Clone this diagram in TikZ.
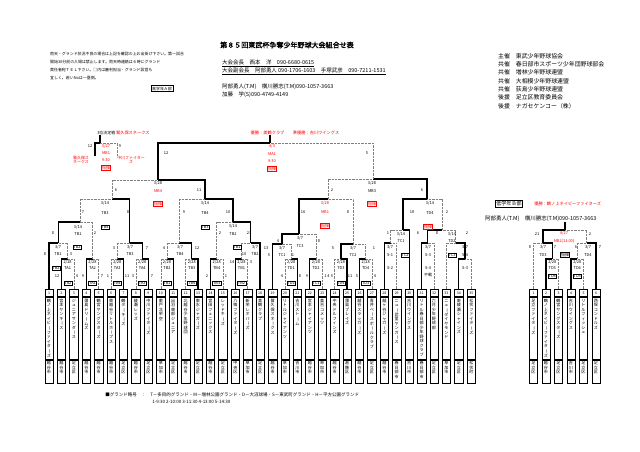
\documentclass[tikz,border=0pt]{standalone}
\usepackage{fontspec}
\setmainfont{Noto Sans CJK JP}[AutoFakeBold=2]

\makeatletter
\def\tatebar{ー}
\newcommand\tate[2][3.1cm]{\vbox to #1{\offinterlineskip\vskip2pt\@tfor\tatech:=#2\do{\hbox to 1em{\hss\vrule height .92em depth .18em width 0pt\ifx\tatech\tatebar\rotatebox[origin=c]{-90}{ー}\else\tatech\fi\hss}}\vss}}
\makeatother

\begin{document}
\begin{tikzpicture}[x=0.05cm,y=-0.05cm,
  win/.style={line width=1.8pt},
  lose/.style={line width=0.6pt,gray,dash pattern=on 1pt off 1pt},
  namebox/.style={draw,line width=0.8pt,anchor=north,minimum width=0.42cm,inner sep=0pt,font=\fontsize{5.8}{5.8}\selectfont},
  citybox/.style={namebox},
  numbox/.style={draw,line width=0.8pt,anchor=south,minimum width=0.42cm,minimum height=0.37cm,inner sep=0pt,font=\fontsize{5}{5}\selectfont},
  ttl/.style={font=\fontsize{10}{12}\selectfont\bfseries,inner sep=0pt},
  hdr/.style={font=\fontsize{7.8}{9}\selectfont,anchor=west,inner sep=0pt},
  org/.style={font=\fontsize{8.4}{10}\selectfont,anchor=west,inner sep=0pt},
  note/.style={font=\fontsize{5.6}{11.5}\selectfont,anchor=north west,align=left,inner sep=0pt},
  lbl/.style={font=\fontsize{5.6}{6}\selectfont,inner sep=0.2pt},
  rlbl/.style={lbl,text=red},
  blbl/.style={lbl,draw,inner sep=0.9pt,line width=0.4pt},
  rblbl/.style={blbl,text=red,draw=red},
  grp/.style={font=\fontsize{5.6}{6}\selectfont,draw,line width=0.6pt,inner sep=1.5pt}]
\useasboundingbox (0,0) rectangle (640,452);

\node[ttl] (title) at (287,45) {第８５回東武杯争奪少年野球大会組合せ表};
\node[note] (notes) at (50,52) {雨天・グランド状況不良の場合は上記を確認の上お出掛け下さい。第一試合\\開始30分前の入場は禁止します。雨天時連絡は６時にグランド\\責任者宛ＴＥＬ下さい。□内は審判担当・グランド設営も\\宜しく。若いNoは一塁側。};
\node[grp] (koA) at (162,88.5) {高学年Ａ部};
\node[hdr] (kaicho) at (222,63) {\underline{大会会長　西本　洋　090-6680-0615}};
\node[hdr] (fuku) at (222,71) {\underline{大会副会長　阿部勇人 090-1706-1603　手塚武彦　090-7211-1531}};
\node[hdr] (shin1) at (222,87) {阿部勇人(T.M)　横川勝志(T.M)090-1057-3663};
\node[hdr] (shin2) at (222,95) {加藤　学(S)090-4749-4149};
\node[org] (o1) at (498,56) {主催　東武少年野球協会};
\node[org] (o2) at (498,64.3) {共催　春日部市スポーツ少年団野球部会};
\node[org] (o3) at (498,72.6) {共催　増林少年野球連盟};
\node[org] (o4) at (498,80.9) {共催　大相模少年野球連盟};
\node[org] (o5) at (498,89.2) {共催　荻島少年野球連盟};
\node[org] (o6) at (498,97.5) {後援　足立区教育委員会};
\node[org] (o7) at (498,105.8) {後援　ナガセケンコー（株）};

\node[namebox] (n1) at (49.0,297) {\tate{鶴ノ上ネイビーファイターズ}};
\node[numbox] (k1) at (n1.north) {1};
\node[citybox] (c1) at (n1.south) {\tate[1.15cm]{越谷市}};
\node[namebox] (n2) at (61.4,297) {\tate{宮本ヤンキース}};
\node[numbox] (k2) at (n2.north) {2};
\node[citybox] (c2) at (n2.south) {\tate[1.15cm]{越谷市}};
\node[namebox] (n3) at (73.8,297) {\tate{ジュニアサンダース}};
\node[numbox] (k3) at (n3.north) {3};
\node[citybox] (c3) at (n3.south) {\tate[1.15cm]{足立区}};
\node[namebox] (n4) at (86.3,297) {\tate{蒲島ドリームズ}};
\node[numbox] (k4) at (n4.north) {4};
\node[citybox] (c4) at (n4.south) {\tate[1.15cm]{越谷市}};
\node[namebox] (n5) at (98.7,297) {\tate{鶴宮ヤングスターズ}};
\node[numbox] (k5) at (n5.north) {5};
\node[citybox] (c5) at (n5.south) {\tate[1.15cm]{越谷市}};
\node[namebox] (n6) at (111.1,297) {\tate{東越谷リトルホープス}};
\node[numbox] (k6) at (n6.north) {6};
\node[citybox] (c6) at (n6.south) {\tate[1.15cm]{越谷市}};
\node[namebox] (n7) at (123.5,297) {\tate{鶴ターキーズ}};
\node[numbox] (k7) at (n7.north) {7};
\node[citybox] (c7) at (n7.south) {\tate[1.15cm]{足立区}};
\node[namebox] (n8) at (135.9,297) {\tate{綾瀬レッズ}};
\node[numbox] (k8) at (n8.north) {8};
\node[citybox] (c8) at (n8.south) {\tate[1.15cm]{越谷市}};
\node[namebox] (n9) at (148.4,297) {\tate{中川ファイターズ}};
\node[numbox] (k9) at (n9.north) {9};
\node[citybox] (c9) at (n9.south) {\tate[1.15cm]{足立区}};
\node[namebox] (n10) at (160.8,297) {\tate{東戸北栄空}};
\node[numbox] (k10) at (n10.north) {10};
\node[citybox] (c10) at (n10.south) {\tate[1.15cm]{草加市}};
\node[namebox] (n11) at (173.2,297) {\tate{出羽東部ジュニア}};
\node[numbox] (k11) at (n11.north) {11};
\node[citybox] (c11) at (n11.south) {\tate[1.15cm]{足立区}};
\node[namebox] (n12) at (185.6,297) {\tate{北越谷少年野球団}};
\node[numbox] (k12) at (n12.north) {12};
\node[citybox] (c12) at (n12.south) {\tate[1.15cm]{越谷市}};
\node[namebox] (n13) at (198.0,297) {\tate{東水ジャガーズ}};
\node[numbox] (k13) at (n13.north) {13};
\node[citybox] (c13) at (n13.south) {\tate[1.15cm]{足立区}};
\node[namebox] (n14) at (210.5,297) {\tate{宮田フェニックス}};
\node[numbox] (k14) at (n14.north) {14};
\node[citybox] (c14) at (n14.south) {\tate[1.15cm]{越谷市}};
\node[namebox] (n15) at (222.9,297) {\tate{レッドキーズ}};
\node[numbox] (k15) at (n15.north) {15};
\node[citybox] (c15) at (n15.south) {\tate[1.15cm]{足立区}};
\node[namebox] (n16) at (235.3,297) {\tate{八條ファイターズ}};
\node[numbox] (k16) at (n16.north) {16};
\node[citybox] (c16) at (n16.south) {\tate[1.15cm]{中央区}};
\node[namebox] (n17) at (247.7,297) {\tate{新栄レオパーズ}};
\node[numbox] (k17) at (n17.north) {17};
\node[citybox] (c17) at (n17.south) {\tate[1.15cm]{草加市}};
\node[namebox] (n18) at (260.1,297) {\tate{美鶴クラブ}};
\node[numbox] (k18) at (n18.north) {18};
\node[citybox] (c18) at (n18.south) {\tate[1.15cm]{足立区}};
\node[namebox] (n19) at (272.6,297) {\tate{鷲久保スネークス}};
\node[numbox] (k19) at (n19.north) {19};
\node[citybox] (c19) at (n19.south) {\tate[1.15cm]{越谷市}};
\node[namebox] (n20) at (285.0,297) {\tate{リトルジャイアンツ}};
\node[numbox] (k20) at (n20.north) {20};
\node[citybox] (c20) at (n20.south) {\tate[1.15cm]{草加市}};
\node[namebox] (n21) at (297.4,297) {\tate{吉川ストーム}};
\node[numbox] (k21) at (n21.north) {21};
\node[citybox] (c21) at (n21.south) {\tate[1.15cm]{吉川市}};
\node[namebox] (n22) at (309.8,297) {\tate{宮本ジャイアンツ}};
\node[numbox] (k22) at (n22.north) {22};
\node[citybox] (c22) at (n22.south) {\tate[1.15cm]{越谷市}};
\node[namebox] (n23) at (322.2,297) {\tate{美合コメッツ}};
\node[numbox] (k23) at (n23.north) {23};
\node[citybox] (c23) at (n23.south) {\tate[1.15cm]{草加市}};
\node[namebox] (n24) at (334.6,297) {\tate{中央ドルフィンズ}};
\node[numbox] (k24) at (n24.north) {24};
\node[citybox] (c24) at (n24.south) {\tate[1.15cm]{越谷市}};
\node[namebox] (n25) at (347.1,297) {\tate{蒲島ブレイズ}};
\node[numbox] (k25) at (n25.north) {25};
\node[citybox] (c25) at (n25.south) {\tate[1.15cm]{葛飾区}};
\node[namebox] (n26) at (359.5,297) {\tate{越谷スラッガーズ}};
\node[numbox] (k26) at (n26.north) {26};
\node[citybox] (c26) at (n26.south) {\tate[1.15cm]{越谷市}};
\node[namebox] (n27) at (371.9,297) {\tate{青井ベースボールクラブ}};
\node[numbox] (k27) at (n27.north) {27};
\node[citybox] (c27) at (n27.south) {\tate[1.15cm]{足立区}};
\node[namebox] (n28) at (384.3,297) {\tate{越ヶ谷ジャガーズ}};
\node[numbox] (k28) at (n28.north) {28};
\node[citybox] (c28) at (n28.south) {\tate[1.15cm]{越谷市}};
\node[namebox] (n29) at (396.7,297) {\tate{ニュー武里ヤンガース}};
\node[numbox] (k29) at (n29.north) {29};
\node[citybox] (c29) at (n29.south) {\tate[1.15cm]{春日部市}};
\node[namebox] (n30) at (409.2,297) {\tate{吉川ウイングス}};
\node[numbox] (k30) at (n30.north) {30};
\node[citybox] (c30) at (n30.south) {\tate[1.15cm]{吉川市}};
\node[namebox] (n31) at (421.6,297) {\tate{リトル春日部少年野球クラブ}};
\node[numbox] (k31) at (n31.north) {31};
\node[citybox] (c31) at (n31.south) {\tate[1.15cm]{春日部市}};
\node[namebox] (n32) at (434.0,297) {\tate{六月少年野球部}};
\node[numbox] (k32) at (n32.north) {32};
\node[citybox] (c32) at (n32.south) {\tate[1.15cm]{足立区}};
\node[namebox] (n33) at (446.4,297) {\tate{ニューダイヤモンド}};
\node[numbox] (k33) at (n33.north) {33};
\node[citybox] (c33) at (n33.south) {\tate[1.15cm]{草加市}};
\node[namebox] (n34) at (458.8,297) {\tate{東綾瀬シャインズ}};
\node[numbox] (k34) at (n34.north) {34};
\node[citybox] (c34) at (n34.south) {\tate[1.15cm]{足立区}};
\node[namebox] (n35) at (471.3,297) {\tate{松伏ファイターズ}};
\node[numbox] (k35) at (n35.north) {35};
\node[citybox] (c35) at (n35.south) {\tate[1.15cm]{松伏町}};

\node[namebox] (m1) at (533.5,297) {\tate{足立ファイターズ}};
\node[numbox] (j1) at (m1.north) {1};
\node[citybox] (d1) at (m1.south) {\tate[1.15cm]{足立区}};
\node[namebox] (m2) at (546.0,297) {\tate{鶴ノ上ネイビーファイターズ}};
\node[numbox] (j2) at (m2.north) {2};
\node[citybox] (d2) at (m2.south) {\tate[1.15cm]{越谷市}};
\node[namebox] (m3) at (558.5,297) {\tate{鶴宮ヤングスターズ}};
\node[numbox] (j3) at (m3.north) {3};
\node[citybox] (d3) at (m3.south) {\tate[1.15cm]{足立区}};
\node[namebox] (m4) at (571.0,297) {\tate{吉川ウイングス}};
\node[numbox] (j4) at (m4.north) {4};
\node[citybox] (d4) at (m4.south) {\tate[1.15cm]{吉川市}};
\node[namebox] (m5) at (583.5,297) {\tate{リトルフィッシュ}};
\node[numbox] (j5) at (m5.north) {5};
\node[citybox] (d5) at (m5.south) {\tate[1.15cm]{足立区}};
\node[namebox] (m6) at (596.0,297) {\tate{西保コンドルズ}};
\node[numbox] (j6) at (m6.north) {6};
\node[citybox] (d6) at (m6.south) {\tate[1.15cm]{足立区}};

\coordinate (ta1) at (67.6,259);
\coordinate (ta2) at (92.5,259);
\coordinate (ta3) at (117.3,259);
\coordinate (ta4) at (142.2,259);
\coordinate (tb1) at (58.3,243);
\coordinate (tb3) at (129.7,243);
\coordinate (tc1) at (80,222);
\coordinate (qa) at (112,199);
\coordinate (ta5) at (167,259);
\coordinate (ta6) at (191.8,259);
\coordinate (tb4) at (179.4,243);
\coordinate (ta7) at (216.7,259);
\coordinate (ta8) at (241.5,259);
\coordinate (tb2) at (250.8,243);
\coordinate (tc2) at (233,222);
\coordinate (qb) at (205,199);
\coordinate (sa) at (158,180);
\coordinate (td1) at (291.2,259);
\coordinate (td2) at (316,259);
\coordinate (tc3a) at (281.9,244);
\coordinate (tc3) at (299,234);
\coordinate (td3) at (340.9,259);
\coordinate (td4) at (365.7,259);
\coordinate (tc4) at (353.3,244);
\coordinate (mb1) at (328,199);
\coordinate (s1) at (390.5,243);
\coordinate (tc5) at (403,230);
\coordinate (s3) at (427.8,243);
\coordinate (s4a) at (465,259);
\coordinate (s4) at (455.6,243);
\coordinate (tc6) at (442,230);
\coordinate (qc) at (427,199);
\coordinate (sb) at (373,179);
\coordinate (fin) at (270,143);
\coordinate (fintop) at (270,135);

\draw[win] (k2.north) |- (ta1);
\draw[lose] (k3.north) |- (ta1);
\draw[win] (k4.north) |- (ta2);
\draw[lose] (k5.north) |- (ta2);
\draw[lose] (k6.north) |- (ta3);
\draw[win] (k7.north) |- (ta3);
\draw[lose] (k8.north) |- (ta4);
\draw[win] (k9.north) |- (ta4);
\draw[win] (k1.north) |- (tb1);
\draw[lose] (ta1) |- (tb1);
\draw[lose] (ta3) |- (tb3);
\draw[win] (ta4) |- (tb3);
\draw[win] (tb1) |- (tc1);
\draw[lose] (ta2) |- (tc1);
\draw[lose] (tc1) |- (qa);
\draw[win] (tb3) |- (qa);
\draw[lose] (k10.north) |- (ta5);
\draw[win] (k11.north) |- (ta5);
\draw[lose] (k12.north) |- (ta6);
\draw[win] (k13.north) |- (ta6);
\draw[lose] (ta5) |- (tb4);
\draw[win] (ta6) |- (tb4);
\draw[win] (k14.north) |- (ta7);
\draw[lose] (k15.north) |- (ta7);
\draw[win] (k16.north) |- (ta8);
\draw[lose] (k17.north) |- (ta8);
\draw[lose] (ta8) |- (tb2);
\draw[win] (k18.north) |- (tb2);
\draw[lose] (ta7) |- (tc2);
\draw[win] (tb2) |- (tc2);
\draw[lose] (tb4) |- (qb);
\draw[win] (tc2) |- (qb);
\draw[lose] (qa) |- (sa);
\draw[win] (qb) |- (sa);
\draw[lose] (k20.north) |- (td1);
\draw[win] (k21.north) |- (td1);
\draw[win] (k22.north) |- (td2);
\draw[lose] (k23.north) |- (td2);
\draw[win] (k19.north) |- (tc3a);
\draw[lose] (td1) |- (tc3a);
\draw[win] (tc3a) |- (tc3);
\draw[lose] (td2) |- (tc3);
\draw[lose] (k24.north) |- (td3);
\draw[win] (k25.north) |- (td3);
\draw[win] (k26.north) |- (td4);
\draw[lose] (k27.north) |- (td4);
\draw[win] (td3) |- (tc4);
\draw[lose] (td4) |- (tc4);
\draw[win] (tc3) |- (mb1);
\draw[lose] (tc4) |- (mb1);
\draw[win] (k28.north) |- (s1);
\draw[lose] (k29.north) |- (s1);
\draw[lose] (s1) |- (tc5);
\draw[win] (k30.north) |- (tc5);
\draw[win] (k31.north) |- (s3);
\draw[lose] (k32.north) |- (s3);
\draw[win] (k34.north) |- (s4a);
\draw[lose] (k35.north) |- (s4a);
\draw[lose] (k33.north) |- (s4);
\draw[win] (s4a) |- (s4);
\draw[win] (s3) |- (tc6);
\draw[lose] (s4) |- (tc6);
\draw[win] (tc5) |- (qc);
\draw[lose] (tc6) |- (qc);
\draw[lose] (mb1) |- (sb);
\draw[win] (qc) |- (sb);
\draw[win] (sa) |- (fin);
\draw[lose] (sb) |- (fin);
\draw[win] (fin) -- (fintop);

\coordinate (tp) at (100,143);
\coordinate (tptop) at (100,135);
\coordinate (tpl) at (95,156);
\coordinate (tpr) at (117,156);
\draw[win] (tpl) |- (tp);
\draw[lose] (tpr) |- (tp);
\draw[win] (tp) -- (tptop);
\node[lbl,anchor=west] (tpttl) at (97,133) {3位決定戦 \textcolor{red}{\fontsize{6}{6}\selectfont 鷲久保スネークス}};
\node[lbl] (tps1) at (90,146) {12};
\node[lbl] (tps2) at (120,146) {9};
\node[rlbl] (tpd) at (106,146) {3/27};
\node[rlbl] (tpm) at (106,153) {MB1};
\node[rlbl] (tpt) at (106,160) {9:30};
\node[rblbl] (tpb) at (106,168) {指揮};
\node[rlbl,align=center] (tpla) at (81,160) {鷲久保ス\\ネークス};
\node[rlbl,align=center] (tplb) at (131,160) {中川ファイター\\ズ};

\node[rlbl,font=\fontsize{6}{6}\selectfont] (champ) at (295,133) {優勝：美鶴クラブ　　準優勝：吉川ウイングス};
\node[rlbl] (find) at (272,146) {4/3};
\node[rlbl] (finm) at (272,154) {MA1};
\node[rlbl] (fint) at (272,161) {9:30};
\node[rblbl] (finb) at (272,169) {指揮};
\node[lbl] (fins1) at (166,153) {12};
\node[lbl] (fins2) at (367,153) {5};

\node[lbl] (sad) at (158,183) {3/28};
\node[rlbl] (sam) at (158,191) {MB4};
\node[rblbl] (sab) at (158,204) {指揮};
\node[lbl] (sas1) at (116,190) {6};
\node[lbl] (sas2) at (199,190) {11};
\node[lbl] (sbd) at (372,183) {3/28};
\node[lbl] (sbm) at (372,191) {MB3};
\node[rblbl] (sbb) at (372,204) {指揮};
\node[lbl] (sbs1) at (332,190) {2};
\node[lbl] (sbs2) at (422,190) {6};

\node[lbl] (qad) at (105,203) {3/14};
\node[lbl] (qam) at (105,213) {TB3};
\node[blbl] (qab) at (105,227) {TB4};
\node[lbl] (qas1) at (83,212) {7};
\node[lbl] (qas2) at (128,212) {8};
\node[lbl] (qbd) at (205,203) {3/14};
\node[lbl] (qbm) at (205,213) {TB4};
\node[blbl] (qbb) at (205,227) {TB3};
\node[lbl] (qbs1) at (184,212) {9};
\node[lbl] (qbs2) at (228,212) {10};
\node[rlbl] (mbd) at (325,203) {3/28};
\node[rlbl] (mbm) at (325,212) {MB1};
\node[rblbl] (mbb) at (325,226) {指揮};
\node[lbl] (mbs1) at (303,212) {16};
\node[lbl] (mbs2) at (348,212) {8};
\node[lbl] (qcd) at (430,203) {3/14};
\node[lbl] (qcm) at (430,213) {TD4};
\node[rblbl] (qcb) at (428,227) {指揮};
\node[lbl] (qcs1) at (412,212) {18};
\node[lbl] (qcs2) at (447,212) {2};

\node[lbl] (tc1d) at (78,227) {3/14};
\node[lbl] (tc1m) at (78,234) {TB1};
\node[lbl] (tc1s1) at (53,233) {8};
\node[lbl] (tc1s2) at (95,233) {2};
\node[lbl] (tc2d) at (233,226) {3/14};
\node[lbl] (tc2m) at (233,234) {TB2};
\node[lbl] (tc2s1) at (220,233) {2};
\node[lbl] (tc2s2) at (249,233) {23};
\node[lbl] (tc5d) at (401,234) {3/14};
\node[lbl] (tc5m) at (401,241) {TC1};
\node[lbl] (tc5s1) at (388,233) {1};
\node[lbl] (tc5s2) at (418,233) {6};
\node[lbl] (tc6d) at (452,234) {3/14};
\node[lbl] (tc6m) at (452,241) {TD2};
\node[lbl] (tc6s1) at (437,233) {8};
\node[lbl] (tc6s2) at (467,233) {2};
\node[lbl] (tc3d) at (300,238) {3/7};
\node[lbl] (tc3m) at (300,246) {TC3};
\node[lbl] (tc3s1) at (278,241) {4};
\node[lbl] (tc3s2) at (319,241) {8};

\node[lbl] (tb1d) at (58,247) {3/7};
\node[lbl] (tb1m) at (58,254) {TB1};
\node[blbl] (tb1b) at (77,247) {TB2};
\node[lbl] (tb1s1) at (45,254) {8};
\node[lbl] (tb1s2) at (71,254) {3};
\node[lbl] (tb3d) at (130,247) {3/7};
\node[lbl] (tb3m) at (130,254) {TB3};
\node[lbl] (tb3s1) at (114,248) {3};
\node[lbl] (tb3s2) at (147,248) {7};
\node[lbl] (tb4d) at (180,247) {3/7};
\node[lbl] (tb4m) at (180,254) {TB4};
\node[lbl] (tb4s1) at (164,248) {4};
\node[lbl] (tb4s2) at (197,248) {12};
\node[lbl] (tb2d) at (255,247) {3/7};
\node[lbl] (tb2m) at (255,254) {TB2};
\node[blbl] (tb2b) at (237,247) {TB1};
\node[lbl] (tb2s1) at (244,254) {10};
\node[lbl] (tb2s2) at (266,248) {13};
\node[lbl] (tc3ad) at (282,248) {3/7};
\node[lbl] (tc3am) at (282,255) {TC1};
\node[lbl] (tc3as1) at (269,255) {5};
\node[lbl] (tc3as2) at (293,255) {1};
\node[lbl] (tc4d) at (353,248) {3/7};
\node[lbl] (tc4m) at (353,255) {TC2};
\node[lbl] (tc4s1) at (333,248) {5};
\node[lbl] (tc4s2) at (374,248) {1};
\node[lbl] (s1d) at (390,247) {3/7};
\node[lbl] (s1m) at (390,255) {S-1};
\node[blbl] (s1b) at (405,255) {TC2};
\node[lbl] (s1s) at (390,268) {S-2};
\node[lbl] (s3d) at (428,247) {3/7};
\node[lbl] (s3m) at (428,255) {S-3};
\node[blbl] (s3b) at (452,255) {TC3};
\node[lbl] (s3s) at (428,268) {S-4};
\node[lbl] (s3f) at (428,275) {不戦};
\node[lbl] (s4d) at (465,247) {3/7};
\node[lbl] (s4m) at (465,255) {S-4};
\node[lbl] (s4s) at (465,268) {S-3};

\node[lbl] (ta1d) at (67.6,262) {2/28};
\node[lbl] (ta1m) at (67.6,268) {TA1};
\node[blbl] (ta1b) at (56,268) {TB2};
\node[lbl] (ta1s1) at (57,276) {12};
\node[lbl] (ta1s2) at (77,276) {4};
\node[blbl] (ta1c) at (68,283) {TA2};
\node[lbl] (ta2d) at (92.5,262) {2/28};
\node[lbl] (ta2m) at (92.5,268) {TA2};
\node[lbl] (ta2s1) at (83,276) {9};
\node[lbl] (ta2s2) at (102,276) {7};
\node[blbl] (ta2c) at (92.5,283) {TA1};
\node[lbl] (ta3d) at (117.3,262) {2/28};
\node[lbl] (ta3m) at (117.3,268) {TA3};
\node[lbl] (ta3s1) at (108,276) {1};
\node[lbl] (ta3s2) at (127,276) {11};
\node[blbl] (ta3c) at (117.3,283) {TA4};
\node[lbl] (ta4d) at (142.2,262) {2/28};
\node[lbl] (ta4m) at (142.2,268) {TA4};
\node[lbl] (ta4s1) at (133,276) {3};
\node[lbl] (ta4s2) at (152,276) {7};
\node[blbl] (ta4c) at (142.2,283) {TA3};
\node[lbl] (ta5d) at (167,262) {2/28};
\node[lbl] (ta5m) at (167,268) {TB2};
\node[blbl] (ta5c) at (167,283) {TB1};
\node[lbl] (ta6d) at (191.8,262) {2/28};
\node[lbl] (ta6m) at (191.8,268) {TB3};
\node[blbl] (ta6c) at (191.8,283) {TB4};
\node[lbl] (ta7d) at (216.7,262) {2/28};
\node[lbl] (ta7m) at (216.7,268) {TB4};
\node[lbl] (ta7s1) at (207,276) {2};
\node[lbl] (ta7s2) at (226,276) {1};
\node[blbl] (ta7c) at (216.7,283) {TB3};
\node[lbl] (ta8d) at (241.5,262) {2/28};
\node[lbl] (ta8m) at (241.5,268) {TB1};
\node[lbl] (ta8s1) at (232,262) {14};
\node[lbl] (ta8s2) at (251,262) {3};
\node[blbl] (ta8c) at (241.5,283) {TB2};
\node[lbl] (td1d) at (291.2,262) {2/28};
\node[lbl] (td1m) at (291.2,268) {TD1};
\node[lbl] (td1s1) at (282,276) {4};
\node[lbl] (td1s2) at (300,276) {8};
\node[blbl] (td1c) at (291.2,283) {TD2};
\node[lbl] (td2d) at (316,262) {2/28};
\node[lbl] (td2m) at (316,268) {TD2};
\node[lbl] (td2s1) at (307,276) {9};
\node[lbl] (td2s2) at (327,276) {1 4};
\node[blbl] (td2c) at (316,283) {TC1};
\node[lbl] (td3d) at (340.9,262) {2/28};
\node[lbl] (td3m) at (340.9,268) {TD3};
\node[lbl] (td3s1) at (332,276) {5};
\node[lbl] (td3s2) at (350,276) {11};
\node[blbl] (td3c) at (340.9,283) {TD4};
\node[lbl] (td4d) at (365.7,262) {2/28};
\node[lbl] (td4m) at (365.7,268) {TD4};
\node[lbl] (td4s1) at (357,276) {5};
\node[lbl] (td4s2) at (375,276) {4};
\node[blbl] (td4c) at (365.7,283) {TD3};

\coordinate (la) at (552.3,259);
\coordinate (lb) at (577.3,259);
\coordinate (lc) at (542.9,243);
\coordinate (ld) at (586.6,243);
\coordinate (lf) at (565,230);
\coordinate (lftop) at (565,222);
\draw[win] (j2.north) |- (la);
\draw[lose] (j3.north) |- (la);
\draw[win] (j4.north) |- (lb);
\draw[lose] (j5.north) |- (lb);
\draw[lose] (j1.north) |- (lc);
\draw[win] (la) |- (lc);
\draw[lose] (lb) |- (ld);
\draw[win] (j6.north) |- (ld);
\draw[win] (lc) |- (lf);
\draw[lose] (ld) |- (lf);
\draw[win] (lf) -- (lftop);
\node[grp,font=\fontsize{7.2}{8}\selectfont] (teiB) at (509,203.5) {低学年Ｂ部};
\node[rlbl,anchor=west,font=\fontsize{6}{6}\selectfont] (champB) at (534,203.5) {優勝：鶴ノ上ネイビーファイターズ};
\node[hdr] (shinB) at (485,219) {阿部勇人(T.M)　横川勝志(T.M)090-1057-3663};
\node[rlbl] (lfd) at (564,233) {4/27};
\node[rlbl] (lfm) at (564,241) {MB2(11:00)};
\node[lbl] (lfs1) at (537,234) {21};
\node[lbl] (lfs2) at (590,234) {2};
\node[lbl] (lcd) at (543,247) {3/7};
\node[lbl] (lcm) at (543,255) {TD3};
\node[lbl] (lcs1) at (530,247) {8};
\node[lbl] (lcs2) at (555,247) {7};
\node[lbl] (ldd) at (588,247) {3/7};
\node[lbl] (ldm) at (588,255) {TD4};
\node[lbl] (lds1) at (576,247) {6};
\node[lbl] (lds2) at (600,247) {7};
\node[lbl] (lad) at (552.3,262) {2/28};
\node[lbl] (lam) at (552.3,268) {TD3};
\node[blbl] (lac) at (552.3,276) {TD4};
\node[lbl] (lbd) at (577.3,262) {2/28};
\node[lbl] (lbm) at (577.3,268) {TD4};
\node[blbl] (lbc) at (577.3,276) {TD3};
\node[blbl] (lxb) at (565,255) {指揮};

\node[lbl,anchor=west,font=\fontsize{6.4}{7}\selectfont] (gnd) at (105,395) {■グランド略号　：　T－多目的グランド・M－増林公園グランド・D－大沼球場・S－東武町グランド・H－平方公園グランド};
\node[lbl,anchor=west,font=\fontsize{6.4}{7}\selectfont] (gtime) at (152,401.5) {1-9:30 2-10:00 3-11:30 4-13:00 5-14:30};
\end{tikzpicture}
\end{document}
